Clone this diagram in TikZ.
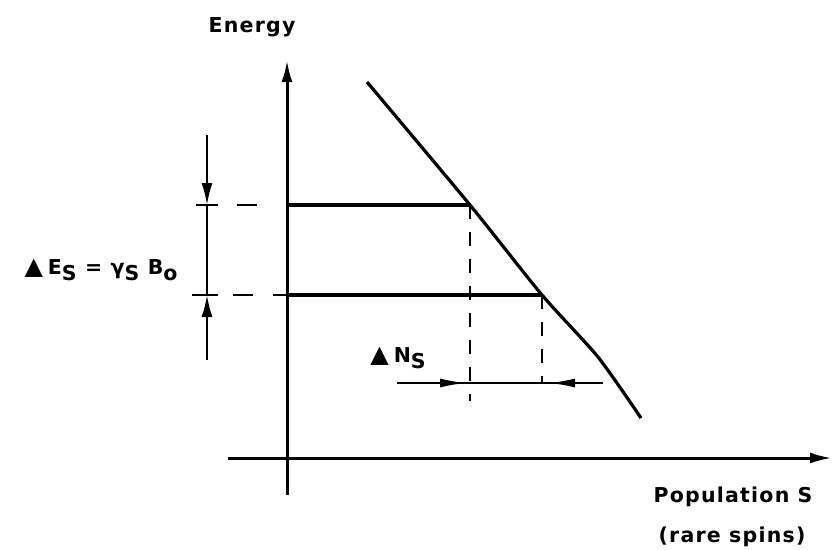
\documentclass[tikz,border=0pt]{standalone}
\usepackage{fontspec}
\setmainfont{DejaVu Sans}
\usetikzlibrary{arrows.meta}
\newcommand{\lowsub}[1]{\raisebox{-0.55ex}{#1}}
\newcommand{\deltri}{{\fontsize{24}{24}\selectfont ▲}\hspace{5pt}}
\begin{document}
\begin{tikzpicture}[x=1pt,y=-1pt,
  axis/.style={line width=3pt,-{Latex[length=22pt,width=11pt]}},
  level/.style={line width=4.6pt},
  thin/.style={line width=2pt},
  guide/.style={line width=2.8pt,dash pattern=on 14pt off 13pt},
  dimtip/.style={-{Latex[length=26pt,width=9pt]}},
  lbl/.style={font=\bfseries\fontsize{20.5}{24}\selectfont\addfontfeatures{LetterSpace=6},inner sep=0pt}]
\useasboundingbox (0,0) rectangle (832,549);
% axes
\coordinate (yb) at (287,495);
\coordinate (yt) at (287,60);
\coordinate (xl) at (228,458);
\coordinate (xr) at (832,458);
\draw[axis] (yb) -- (yt);
\draw[axis] (xl) -- (xr);
% curve
\coordinate (c0) at (367,82);
\coordinate (p1) at (470,205);
\coordinate (p2) at (542,295);
\coordinate (c3) at (598,357);
\coordinate (c4) at (641,418);
\draw[line width=3.2pt] plot[smooth,tension=0.4] coordinates {(c0) (p1) (p2) (c3) (c4)};
% levels
\coordinate (a1) at (287,205);
\coordinate (a2) at (287,295);
\draw[level] (a1) -- (p1);
\draw[level] (a2) -- (p2);
% dashed guides to the left
\coordinate (d1) at (207,205);
\coordinate (d2) at (207,295);
\draw[guide,dash pattern=on 0pt off 30pt on 20pt off 40pt] (d1) -- (a1);
\draw[guide,dash pattern=on 0pt off 26pt on 20pt off 20pt on 20pt] (d2) -- (a2);
% vertical dashed drops
\coordinate (v1) at (470,401);
\coordinate (v2) at (542,383);
\draw[guide] (p1) -- (v1);
\draw[guide] (p2) -- (v2);
% Delta E dimension
\coordinate (e0) at (207,135);
\coordinate (e1) at (207,205);
\coordinate (e2) at (207,295);
\coordinate (e3) at (207,360);
\draw[thin] (e1) -- (e2);
\draw[thin,-{Latex[length=22pt,width=11pt]}] (e0) -- (e1);
\draw[thin,-{Latex[length=22pt,width=11pt]}] (e3) -- (e2);
\coordinate (t1a) at (196,205); \coordinate (t1b) at (218,205);
\coordinate (t2a) at (192,295); \coordinate (t2b) at (218,295);
\draw[thin] (t1a) -- (t1b);
\draw[thin] (t2a) -- (t2b);
% Delta N dimension
\coordinate (n0) at (397,383);
\coordinate (n1) at (466,383);
\coordinate (n2) at (549,383);
\coordinate (n3) at (603,383);
\draw[thin] (n0) -- (n3);
\draw[thin,dimtip] (n0) -- (n1);
\draw[thin,dimtip] (n3) -- (n2);
% labels
\node[lbl] (energy) at (252,27) {Energy};
\node[lbl] (de) at (101,270) {\deltri E\lowsub{S} = γ\lowsub{S} B\lowsub{o}};
\node[lbl] (dn) at (398,358) {\deltri N\lowsub{S}};
\node[lbl] (pop) at (733,497) {Population S};
\node[lbl] (rare) at (732,537) {(rare spins)};
\end{tikzpicture}
\end{document}
